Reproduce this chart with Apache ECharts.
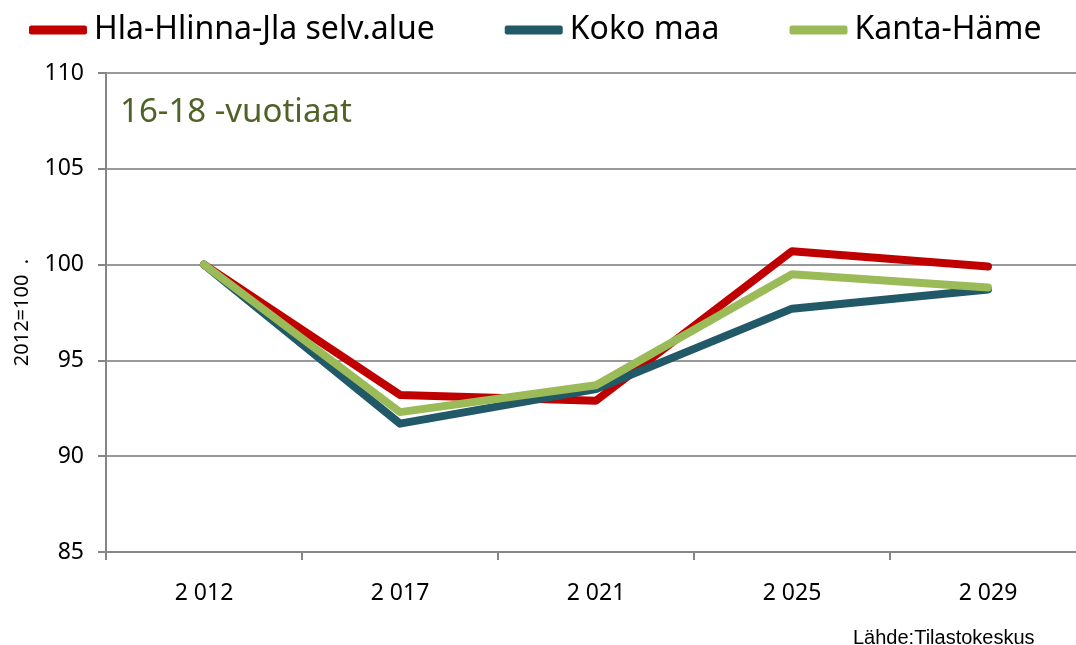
<!DOCTYPE html>
<html>
<head>
<meta charset="utf-8">
<script src="https://cdn.jsdelivr.net/npm/echarts@6/dist/echarts.min.js"></script>
<style>
  html, body { margin: 0; padding: 0; background: #fff; overflow: hidden; }
  #chart { width: 1086px; height: 645px; }
</style>
</head>
<body>
<div id="chart"></div>
<script>
  // vuodet ja indeksit (2012=100)
  var years = ['2 012', '2 017', '2 021', '2 025', '2 029'];
  var hlaHlinna = [100, 93.2, 92.9, 100.7, 99.9];
  var kokoMaa = [100, 91.7, 93.5, 97.7, 98.7];
  var kantaHame = [100, 92.3, 93.7, 99.5, 98.8];

  var font = "'Noto Sans', sans-serif";
  var chart = echarts.init(document.getElementById('chart'));

  function lineSeries(name, data, color) {
    return {
      name: name,
      type: 'line',
      data: data,
      symbol: 'none',
      smooth: false,
      lineStyle: { color: color, width: 8, cap: 'round', join: 'round' },
      itemStyle: { color: color },
      emphasis: { disabled: true }
    };
  }

  chart.setOption({
    animation: false,
    textStyle: { fontFamily: font },
    // plot area runs past the right edge of the window, as in the original
    grid: { left: 106, top: 73, width: 980, bottom: 93, containLabel: false },
    legend: {
      left: 24,
      top: 9,
      itemWidth: 58,
      itemHeight: 9,
      itemGap: 70,
      icon: 'roundRect',
      textStyle: { fontSize: 32, color: '#000', fontFamily: font, padding: [0, 0, 0, 2] },
      data: ['Hla-Hlinna-Jla selv.alue', 'Koko maa', 'Kanta-Häme']
    },
    title: [{
      text: '16-18 -vuotiaat',
      left: 115,
      top: 91,
      textStyle: { fontSize: 33, fontWeight: 'normal', color: '#4F6228', fontFamily: font }
    }, {
      text: 'Lähde:Tilastokeskus',
      left: 848,
      top: 623,
      textStyle: { fontSize: 20, fontWeight: 'normal', color: '#000', fontFamily: "'Liberation Sans', Arial, sans-serif" }
    }],
    xAxis: {
      type: 'category',
      data: years,
      boundaryGap: true,
      axisLine: { lineStyle: { color: '#868686', width: 2 } },
      axisTick: { show: true, length: 8, lineStyle: { color: '#868686', width: 2 } },
      axisLabel: { fontSize: 23, color: '#000', margin: 30 },
      splitLine: { show: false }
    },
    yAxis: {
      type: 'value',
      min: 85,
      max: 110,
      interval: 5,
      name: '2012=100  .',
      nameLocation: 'middle',
      nameGap: 74,
      nameRotate: 90,
      nameTextStyle: { fontSize: 20, color: '#000' },
      axisLine: { show: true, lineStyle: { color: '#868686', width: 2 } },
      axisTick: { show: true, length: 8, lineStyle: { color: '#868686', width: 2 } },
      axisLabel: { fontSize: 23, color: '#000', margin: 22 },
      splitLine: { lineStyle: { color: '#999', width: 2 } }
    },
    series: [
      lineSeries('Hla-Hlinna-Jla selv.alue', hlaHlinna, '#C00000'),
      lineSeries('Koko maa', kokoMaa, '#215968'),
      lineSeries('Kanta-Häme', kantaHame, '#9BBB59')
    ]
  });
</script>
</body>
</html>
